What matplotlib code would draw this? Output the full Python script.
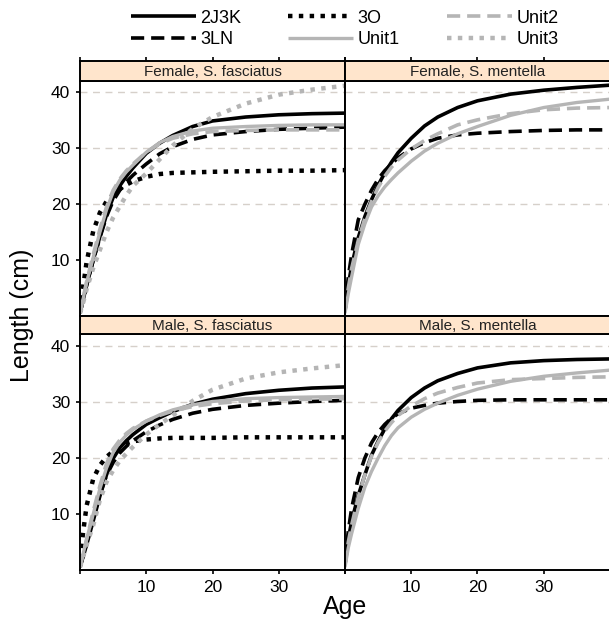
import matplotlib
matplotlib.use("Agg")
import matplotlib.pyplot as plt
from matplotlib.lines import Line2D

plt.rcParams['font.family'] = ['Liberation Sans', 'DejaVu Sans']
plt.rcParams['lines.scale_dashes'] = False

# ---- data: predicted length-at-age (cm) ----
ages = [0, 0.5, 1, 2, 3, 4, 5, 6, 7, 8, 10, 12, 14, 17, 20, 25, 30, 35, 40]

# Female, S. fasciatus
ffas_2J3K  = [0.5, 3.0, 5.5, 10.0, 14.2, 18.1, 21.2, 23.3, 25.0, 26.5, 29.1, 30.9, 32.3, 33.9, 34.9, 35.6, 36.0, 36.2, 36.3]
ffas_3LN   = [0.5, 3.0, 5.5, 10.0, 14.0, 17.8, 20.6, 22.5, 24.0, 25.2, 27.2, 29.0, 30.3, 31.6, 32.4, 33.0, 33.4, 33.6, 33.8]
ffas_3O    = [1.0, 5.5, 9.7, 15.2, 18.5, 20.5, 21.7, 22.7, 23.5, 24.1, 24.9, 25.4, 25.6, 25.7, 25.8, 25.9, 26.0, 26.0, 26.1]
ffas_Unit1 = [0.5, 3.2, 6.0, 10.5, 15.0, 19.0, 22.2, 24.3, 25.8, 27.0, 29.3, 31.0, 32.1, 33.1, 33.6, 33.9, 34.1, 34.2, 34.2]
ffas_Unit2 = [0.5, 3.3, 6.2, 11.0, 15.5, 19.5, 22.5, 24.5, 26.0, 27.2, 29.3, 30.8, 31.8, 32.6, 33.0, 33.2, 33.3, 33.3, 33.3]
ffas_Unit3 = [0.5, 2.5, 4.8, 8.6, 11.8, 15.0, 17.6, 19.6, 21.6, 23.3, 25.5, 28.0, 30.5, 33.5, 35.6, 38.0, 39.6, 40.5, 41.2]

# Female, S. mentella
fmen_2J3K  = [1.0, 5.5, 9.0, 14.0, 17.8, 20.8, 23.4, 25.6, 27.5, 29.2, 31.8, 34.0, 35.6, 37.3, 38.5, 39.7, 40.4, 40.9, 41.3]
fmen_3LN   = [1.0, 7.0, 11.0, 17.2, 20.0, 22.5, 24.5, 26.0, 27.2, 28.3, 29.9, 31.0, 31.8, 32.4, 32.7, 33.0, 33.2, 33.3, 33.3]
fmen_Unit1 = [0.5, 4.0, 7.0, 12.8, 16.5, 19.5, 21.5, 23.1, 24.4, 25.6, 27.7, 29.5, 30.9, 32.6, 33.9, 35.9, 37.3, 38.2, 38.8]
fmen_Unit2 = [1.0, 5.0, 8.5, 13.5, 17.5, 20.5, 23.0, 25.0, 26.6, 27.9, 29.9, 31.4, 32.6, 34.2, 35.1, 36.2, 36.9, 37.2, 37.3]

# Male, S. fasciatus
mfas_2J3K  = [0.5, 2.5, 4.5, 8.8, 13.2, 17.0, 19.9, 21.8, 23.1, 24.2, 26.0, 27.2, 28.3, 29.6, 30.5, 31.5, 32.1, 32.5, 32.7]
mfas_3LN   = [0.5, 2.7, 5.0, 9.5, 13.5, 16.9, 19.2, 20.9, 22.1, 23.1, 24.7, 25.9, 26.9, 28.0, 28.7, 29.4, 29.8, 30.1, 30.3]
mfas_3O    = [2.0, 7.0, 11.5, 16.3, 18.7, 20.2, 21.2, 22.0, 22.6, 23.0, 23.3, 23.5, 23.6, 23.6, 23.6, 23.7, 23.7, 23.7, 23.7]
mfas_Unit1 = [0.5, 3.0, 5.5, 10.0, 14.5, 18.2, 21.0, 22.8, 24.1, 25.1, 26.6, 27.7, 28.6, 29.5, 30.1, 30.6, 30.8, 30.9, 31.0]
mfas_Unit2 = [0.5, 3.0, 5.5, 10.5, 15.0, 19.0, 21.6, 23.2, 24.4, 25.3, 26.6, 27.6, 28.4, 29.2, 29.7, 30.2, 30.4, 30.5, 30.6]
mfas_Unit3 = [0.5, 2.5, 4.5, 8.0, 12.5, 15.7, 17.8, 19.5, 20.8, 22.0, 24.2, 26.0, 27.6, 30.2, 32.2, 34.2, 35.3, 36.0, 36.6]

# Male, S. mentella
mmen_2J3K  = [1.0, 5.5, 8.7, 13.3, 17.0, 20.5, 23.0, 25.2, 27.0, 28.5, 30.8, 32.5, 33.8, 35.1, 36.1, 37.0, 37.4, 37.6, 37.7]
mmen_3LN   = [1.0, 7.0, 11.0, 16.5, 20.0, 22.7, 24.6, 26.0, 27.1, 27.9, 28.9, 29.4, 29.8, 30.1, 30.3, 30.4, 30.4, 30.4, 30.4]
mmen_Unit1 = [0.5, 4.0, 6.5, 11.0, 14.8, 17.6, 20.0, 22.2, 24.0, 25.4, 27.3, 28.7, 29.8, 31.2, 32.3, 33.7, 34.6, 35.2, 35.7]
mmen_Unit2 = [1.0, 5.0, 8.0, 13.0, 17.0, 20.3, 22.8, 24.8, 26.3, 27.6, 29.3, 30.6, 31.6, 32.6, 33.4, 34.0, 34.2, 34.4, 34.5]

panel_titles = ["Female, S. fasciatus", "Female, S. mentella",
                "Male, S. fasciatus", "Male, S. mentella"]
stocks = ["2J3K", "3LN", "3O", "Unit1", "Unit2", "Unit3"]
x_ticks = [0, 10, 20, 30, 40]
x_ticklabels = ["", "10", "20", "30", ""]
y_ticks = [10, 20, 30, 40]
y_ticklabels = ["10", "20", "30", "40"]
ref_lines = [20, 30, 40]

panels = [
    {"2J3K": ffas_2J3K, "3LN": ffas_3LN, "3O": ffas_3O,
     "Unit1": ffas_Unit1, "Unit2": ffas_Unit2, "Unit3": ffas_Unit3},
    {"2J3K": fmen_2J3K, "3LN": fmen_3LN,
     "Unit1": fmen_Unit1, "Unit2": fmen_Unit2},
    {"2J3K": mfas_2J3K, "3LN": mfas_3LN, "3O": mfas_3O,
     "Unit1": mfas_Unit1, "Unit2": mfas_Unit2, "Unit3": mfas_Unit3},
    {"2J3K": mmen_2J3K, "3LN": mmen_3LN,
     "Unit1": mmen_Unit1, "Unit2": mmen_Unit2},
]

# ---- styling ----
GREY = "#b5b5b5"
styles = {
    "2J3K":  dict(color="black", lw=2.6, linestyle="-"),
    "3LN":   dict(color="black", lw=2.6, linestyle=(0, (9.5, 5))),
    "3O":    dict(color="black", lw=3.2, linestyle=(0, (3.2, 4.6))),
    "Unit1": dict(color=GREY, lw=2.4, linestyle="-"),
    "Unit2": dict(color=GREY, lw=2.6, linestyle=(0, (9.5, 5))),
    "Unit3": dict(color=GREY, lw=3.2, linestyle=(0, (3.2, 4.6))),
}
STRIP = "#ffe5cc"
GRID = "#d6d0ca"

W, H = 609, 626
fig = plt.figure(figsize=(W / 100, H / 100), dpi=100)


def rect(l, t, r, b):
    return [l / W, 1 - b / H, (r - l) / W, (b - t) / H]


cols = [(80, 345), (345, 610)]
rows = [(61, 80.7, 316), (316, 334.3, 570)]  # strip top, panel top, panel bottom

for idx, data in enumerate(panels):
    r, c = divmod(idx, 2)
    l, rr = cols[c]
    st, pt, pb = rows[r]

    ax = fig.add_axes(rect(l, pt, rr, pb))
    for y in ref_lines:
        ax.axhline(y, color=GRID, lw=1.0, linestyle=(0, (5, 4)), zorder=1)
    for name in stocks:
        if name in data:
            ax.plot(ages, data[name], zorder=2, solid_capstyle="butt",
                    dash_capstyle="butt", **styles[name])
    ax.set_xlim(0, 40)
    ax.set_ylim(0, 42.1)
    for s in ax.spines.values():
        s.set_linewidth(1.4)
    ax.set_xticks(x_ticks)
    ax.set_yticks(y_ticks)
    ax.tick_params(direction="out", length=3, width=1.2, labelsize=12.5,
                   pad=4)
    if r == 1:
        ax.set_xticklabels(x_ticklabels)
    else:
        ax.tick_params(axis="x", bottom=False, labelbottom=False)
    if c == 0:
        ax.set_yticklabels(y_ticklabels)
    else:
        ax.tick_params(axis="y", left=False, labelleft=False)

    # strip with panel title
    sax = fig.add_axes(rect(l, st, rr, pt))
    sax.set_facecolor(STRIP)
    sax.set_xlim(0, 40)
    sax.set_ylim(0, 1)
    sax.set_yticks([])
    for s in sax.spines.values():
        s.set_linewidth(1.4)
    if r == 0:
        sax.set_xticks(x_ticks)
        sax.tick_params(axis="x", top=True, bottom=False, labeltop=False,
                        labelbottom=False, direction="out", length=3,
                        width=1.2)
    else:
        sax.set_xticks([])
    sax.text(20, 0.45, panel_titles[idx], ha="center", va="center",
             fontsize=11, color="#222222")

fig.text(345 / W, 1 - 607 / H, "Age", ha="center", va="center", fontsize=18)
fig.text(22 / W, 1 - 315 / H, "Length (cm)", ha="center", va="center",
         rotation=90, fontsize=18)

handles = [Line2D([], [], solid_capstyle="butt", dash_capstyle="butt",
                  **styles[n]) for n in stocks]
fig.legend(handles, stocks, ncol=3, loc="upper left",
           bbox_to_anchor=(118 / W, 1 + 3 / H), frameon=False,
           fontsize=13, handlelength=3.6, handletextpad=0.25,
           columnspacing=2.6, labelspacing=0.25, borderpad=0.2)

fig.savefig("out.png", dpi=100)
